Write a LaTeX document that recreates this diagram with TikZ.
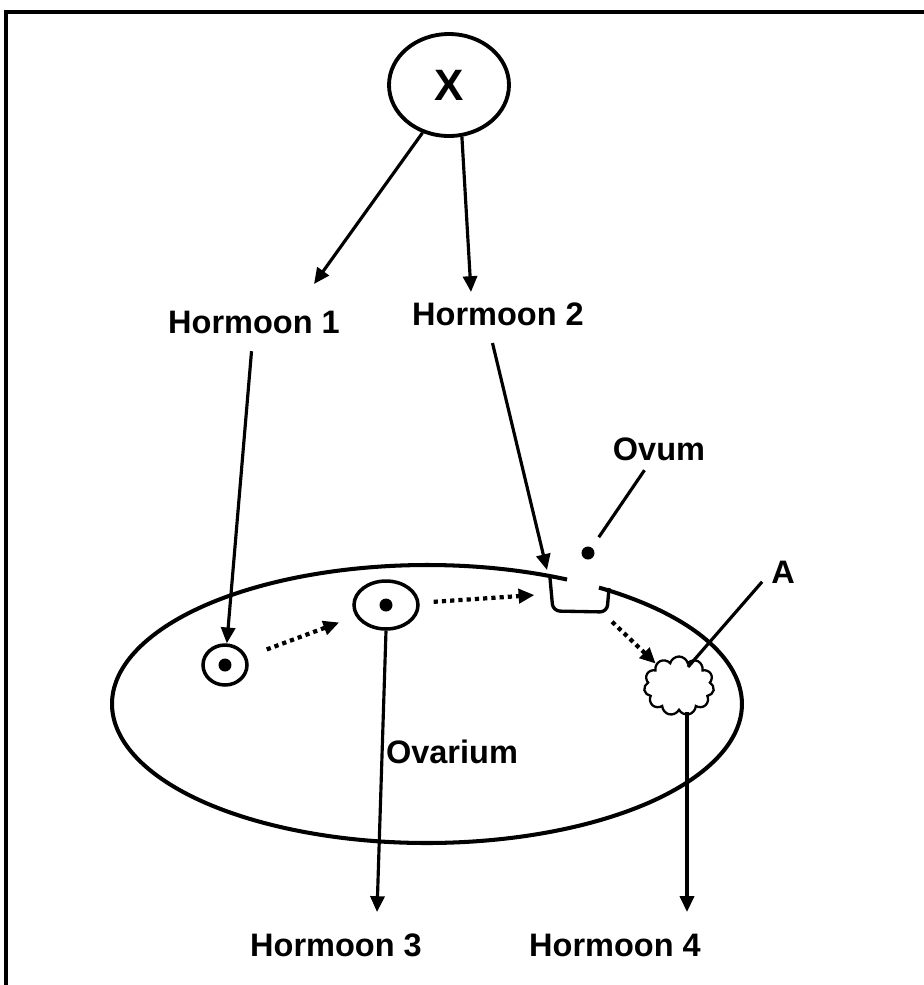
\documentclass[tikz,border=0pt]{standalone}
\usepackage{fontspec}
\setmainfont{Liberation Sans}
\usetikzlibrary{arrows.meta,shapes.geometric,shapes.symbols}
\tikzset{
    %Define standard arrow tip
    >={Triangle[length=9pt,width=8pt]},
    %Define style for labels
    tekst/.style={
           font=\fontsize{18.5}{21}\selectfont\bfseries,
           inner sep=2pt},
    % Define style for follicles
    blaasje/.style={
           ellipse,
           draw, line width=2pt,
           inner sep=0pt},
    kern/.style={
           circle,
           fill,
           inner sep=0pt,
           minimum size=0.26cm},
    % Define arrow styles
    pil/.style={
           ->,
           line width=1.8pt},
    stippil/.style={
           ->,
           line width=2.4pt,
           dash pattern=on 2.4pt off 2.3pt},
    lijn/.style={line width=1.8pt},
    wand/.style={line width=2.3pt}
}

\begin{document}
\begin{tikzpicture}[x=0.02cm,y=-0.02cm]
\useasboundingbox (0,0) rectangle (924,985);

% frame
\draw[line width=2.3pt] (6,995) -- (6,12) -- (935,12);

\node[draw, ellipse, line width=2.2pt, minimum width=2.4cm, minimum height=2.04cm,
  inner sep=0pt, font=\fontsize{25}{27}\selectfont\bfseries] (X) at (449,85) {X};

\node[tekst] (h1) at (254,322) {Hormoon 1};
\node[tekst] (h2) at (498,314) {Hormoon 2};
\node[tekst] (ovum) at (659,449) {Ovum};
\node[tekst] (A) at (783,572) {A};
\node[tekst] (ovarium) at (452,752) {Ovarium};
\node[tekst] (h3) at (336,945) {Hormoon 3};
\node[tekst] (h4) at (615,945) {Hormoon 4};

% ovary with the opening
\coordinate (ov) at (427,704);
\draw[wand] ([shift={(63.6:6.3cm and 2.78cm)}]ov)
  arc[start angle=63.6, end angle=416.9, x radius=6.3cm, y radius=2.78cm];
\draw[line width=1.9pt, rounded corners=4pt] (550,578) -- (553,611) -- (607,612) -- (609,588);

\node[blaasje, minimum width=0.88cm, minimum height=0.8cm] (f1) at (225,665) {};
\node[kern] (k1) at (f1) {};
\node[blaasje, minimum width=1.28cm, minimum height=0.96cm] (f2) at (386,605) {};
\node[kern] (k2) at (f2) {};
\node[kern] (egg) at (588,553) {};
\node[cloud, draw, line width=1.3pt, cloud puffs=11, aspect=1.2, inner sep=0pt,
  minimum width=1.4cm, minimum height=1.18cm] (gl) at (679,686) {};

\coordinate (t1) at (314,284);
\coordinate (t2) at (471,292);
\coordinate (t3) at (377,912);
\coordinate (t4) at (687,912);
\coordinate (rupt) at (547,570);
\coordinate (kom) at (580,592);
\coordinate (kom-uit) at (602,612);
\coordinate (gl-in) at (688,667);

\draw[pil] (X.241) -- (t1);
\draw[pil] (X.284) -- (t2);
\draw[pil, shorten <=8pt] (h1) -- (f1);
\draw[pil, shorten <=8pt] ([xshift=-5pt]h2.south) -- (rupt);
\draw[lijn, shorten <=4pt, shorten >=7pt] ([xshift=-6pt]ovum.south) -- (egg);
\draw[lijn] ([xshift=-3pt,yshift=3pt]A.south west) -- (gl-in);
\draw[pil] (f2.south) -- (t3);
\draw[pil] (gl.south -| t4) -- (t4);

\draw[stippil, shorten <=12pt, shorten >=10pt] (f1) -- (f2);
\draw[stippil, shorten <=8pt, shorten >=26pt] (f2) -- (kom);
\draw[stippil, shorten <=8pt] (kom-uit) -- (gl);

\end{tikzpicture}
\end{document}
